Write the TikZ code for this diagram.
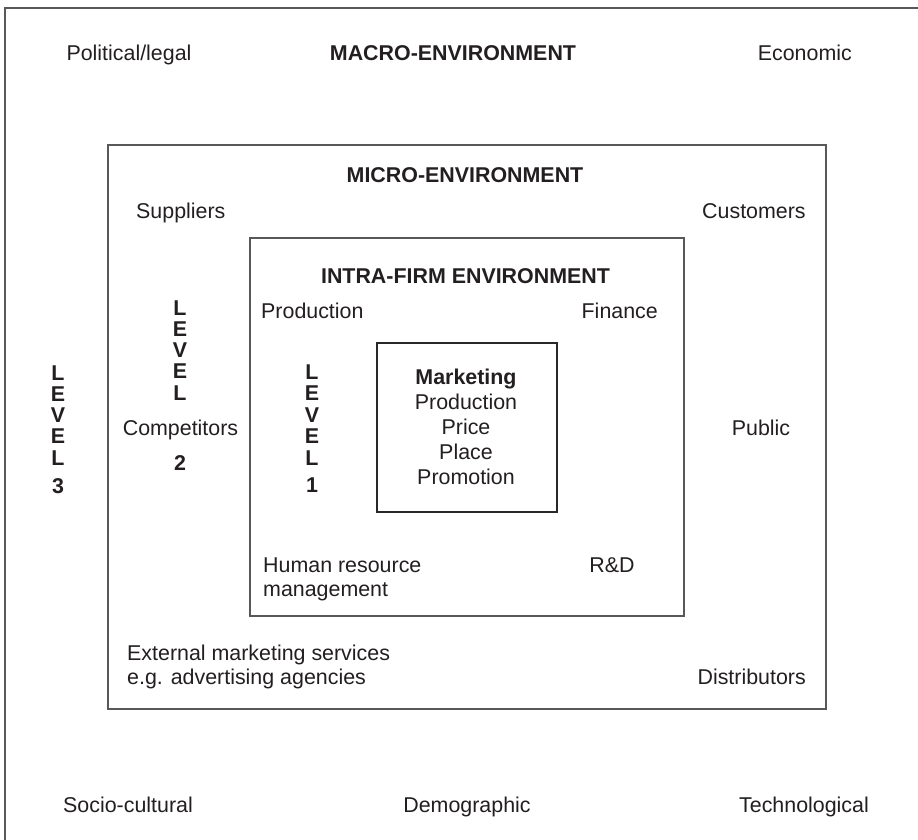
\documentclass[tikz,border=0pt]{standalone}
\usepackage{fontspec}
\setmainfont{Liberation Sans}
\definecolor{linec}{RGB}{88,88,88}
\definecolor{mkc}{RGB}{40,40,40}
\definecolor{txt}{RGB}{35,31,32}
\begin{document}
\begin{tikzpicture}[x=1pt,y=-1pt,
  lbl/.style={inner sep=0pt, anchor=base, text=txt, font=\fontsize{21.4}{25}\selectfont},
  lblw/.style={lbl, anchor=base west},
  lble/.style={lbl, anchor=base east},
  hdr/.style={lbl, font=\bfseries\fontsize{21.4}{25}\selectfont},
  bx/.style={draw=linec, line width=1.6pt}]
\useasboundingbox (0,0) rectangle (918,840);
\fill[white] (0,0) rectangle (918,840);
% boxes
\draw[bx] (918,8) -- (5,8) -- (5,840);
\draw[bx] (108,145) rectangle (826,709);
\draw[bx] (250,238) rectangle (684,616);
\draw[bx, draw=mkc] (377,343) rectangle (557,512);
% macro
\node[lbl]  (pol)   at (129,61) {Political/legal};
\node[hdr]  (macro) at (453,61) {MACRO-ENVIRONMENT};
\node[lble] (eco)   at (852,61) {Economic};
\node[lbl]  (soc)   at (128,812) {Socio-cultural};
\node[lbl]  (dem)   at (467,812) {Demographic};
\node[lble] (tech)  at (869,812) {Technological};
% micro
\node[hdr]  (micro) at (465,182) {MICRO-ENVIRONMENT};
\node[lblw] (sup)   at (136,218) {Suppliers};
\node[lblw] (cus)   at (702,218) {Customers};
\node[lbl]  (comp)  at (180.5,435) {Competitors};
\node[lbl]  (pub)   at (761,435) {Public};
\node[lblw] (ext1)  at (127,660) {External marketing services};
\node[lblw] (ext2)  at (127,684) {e.g. advertising agencies};
\node[lble] (dist)  at (806,684) {Distributors};
% intra
\node[hdr]  (intra) at (465.5,283) {INTRA-FIRM ENVIRONMENT};
\node[lblw] (prod)  at (261,318) {Production};
\node[lble] (fin)   at (658,318) {Finance};
\node[lblw] (hr1)   at (263,572) {Human resource};
\node[lblw] (hr2)   at (263,596) {management};
\node[lbl]  (rd)    at (612,572) {R\&D};
% marketing
\node[hdr]  (mk)    at (466,384) {Marketing};
\node[lbl]  (mk1)   at (466,409) {Production};
\node[lbl]  (mk2)   at (466,434) {Price};
\node[lbl]  (mk3)   at (466,459) {Place};
\node[lbl]  (mk4)   at (466,484) {Promotion};
% levels
\foreach \c [count=\i] in {L,E,V,E,L} {
  \node[hdr] (lvA\i) at (58,{380+21.3*(\i-1)}) {\c};
  \node[hdr] (lvB\i) at (180,{315+21.3*(\i-1)}) {\c};
  \node[hdr] (lvC\i) at (312,{379+21.5*(\i-1)}) {\c};
}
\node[hdr] (lvA6) at (58,493) {3};
\node[hdr] (lvB6) at (180,470) {2};
\node[hdr] (lvC6) at (312,492) {1};
\end{tikzpicture}
\end{document}
